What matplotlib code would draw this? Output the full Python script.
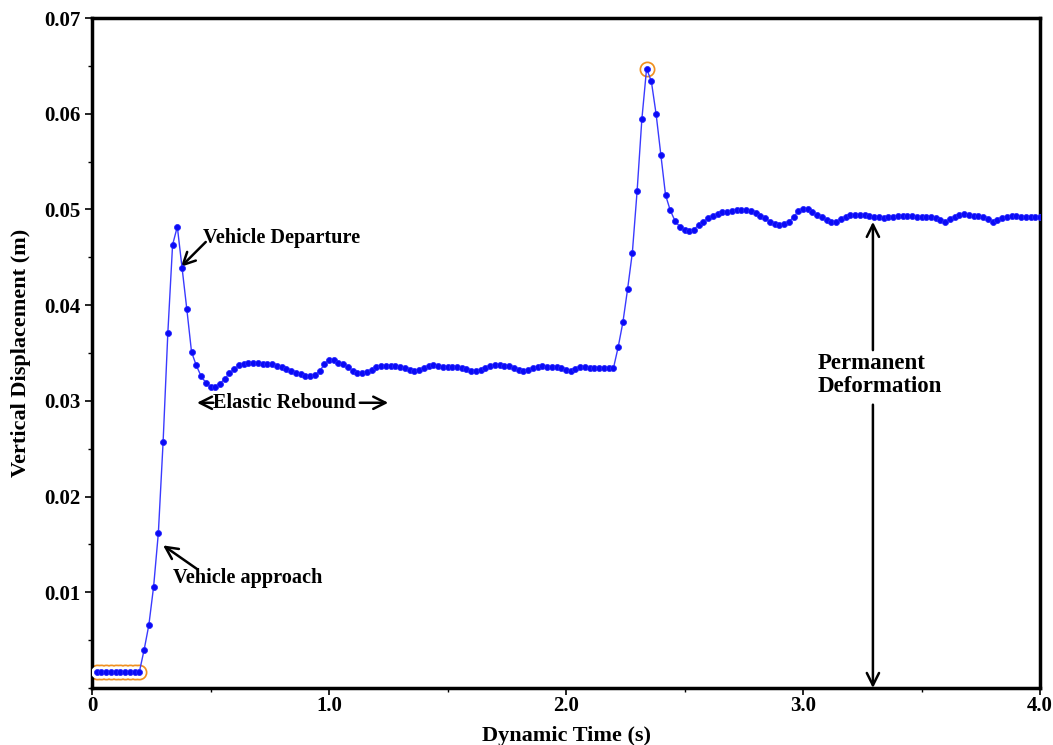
import matplotlib
matplotlib.use('Agg')
import matplotlib.pyplot as plt
import numpy as np
from matplotlib.ticker import MultipleLocator, FixedLocator

# ---------------- data ----------------
time_s = np.round(np.arange(1, 201) * 0.02, 2)
displacement_m = [
    0.0017, 0.0017, 0.0017, 0.0017, 0.0017, 0.0017, 0.0017, 0.0017, 0.0017, 0.0017,
    0.0040, 0.0066, 0.0106, 0.0162, 0.0257, 0.0371, 0.0463, 0.0482, 0.0439, 0.0396,
    0.0351, 0.0337, 0.0326, 0.0319, 0.0315, 0.0315, 0.0318, 0.0323, 0.0329, 0.0333,
    0.0337, 0.0339, 0.0340, 0.0340, 0.0340, 0.0339, 0.0339, 0.0338, 0.0336, 0.0335,
    0.0333, 0.0331, 0.0329, 0.0328, 0.0326, 0.0326, 0.0327, 0.0331, 0.0338, 0.0343,
    0.0343, 0.0340, 0.0338, 0.0335, 0.0331, 0.0329, 0.0329, 0.0330, 0.0332, 0.0335,
    0.0336, 0.0336, 0.0336, 0.0336, 0.0335, 0.0334, 0.0332, 0.0331, 0.0332, 0.0334,
    0.0336, 0.0337, 0.0336, 0.0335, 0.0335, 0.0335, 0.0335, 0.0334, 0.0333, 0.0331,
    0.0331, 0.0332, 0.0334, 0.0336, 0.0337, 0.0337, 0.0336, 0.0336, 0.0334, 0.0332,
    0.0331, 0.0332, 0.0334, 0.0335, 0.0336, 0.0335, 0.0335, 0.0335, 0.0334, 0.0332,
    0.0331, 0.0333, 0.0335, 0.0335, 0.0334, 0.0334, 0.0334, 0.0334, 0.0334, 0.0334,
    0.0356, 0.0382, 0.0417, 0.0455, 0.0519, 0.0594, 0.0647, 0.0634, 0.0600, 0.0557,
    0.0515, 0.0499, 0.0488, 0.0482, 0.0478, 0.0477, 0.0479, 0.0484, 0.0487, 0.0491,
    0.0493, 0.0495, 0.0497, 0.0497, 0.0498, 0.0499, 0.0499, 0.0499, 0.0498, 0.0496,
    0.0493, 0.0491, 0.0487, 0.0485, 0.0484, 0.0485, 0.0487, 0.0492, 0.0498, 0.0500,
    0.0500, 0.0497, 0.0494, 0.0492, 0.0489, 0.0487, 0.0487, 0.0490, 0.0492, 0.0494,
    0.0494, 0.0494, 0.0494, 0.0493, 0.0492, 0.0492, 0.0491, 0.0492, 0.0492, 0.0493,
    0.0493, 0.0493, 0.0493, 0.0492, 0.0492, 0.0492, 0.0492, 0.0491, 0.0489, 0.0487,
    0.0490, 0.0492, 0.0494, 0.0495, 0.0494, 0.0493, 0.0493, 0.0492, 0.0490, 0.0487,
    0.0489, 0.0491, 0.0492, 0.0493, 0.0493, 0.0492, 0.0492, 0.0492, 0.0492, 0.0492,
]
highlight_idx = [0, 1, 2, 3, 4, 5, 6, 7, 8, 9, 116]

x_ticks = [0, 1, 2, 3, 4]
x_tick_labels = ['0', '1.0', '2.0', '3.0', '4.0']
y_ticks = [0.01, 0.02, 0.03, 0.04, 0.05, 0.06, 0.07]
y_tick_labels = ['0.01', '0.02', '0.03', '0.04', '0.05', '0.06', '0.07']

x_label = 'Dynamic Time (s)'
y_label = 'Vertical Displacement (m)'

# ---------------- figure ----------------
serif = 'Liberation Serif'
plt.rcParams['font.family'] = [serif, 'DejaVu Serif']

fig = plt.figure(figsize=(10.53, 7.45), dpi=100)
ax = fig.add_axes([92 / 1053, 57 / 745, 948 / 1053, 670 / 745])

t = np.asarray(time_s)
d = np.asarray(displacement_m)
hi = np.asarray(highlight_idx)

# orange highlight rings
ax.plot(t[hi], d[hi], linestyle='none', marker='o', markersize=10.5,
        markerfacecolor='#F0901E', markeredgecolor='#F0901E', zorder=2)
ax.plot(t[hi], d[hi], linestyle='none', marker='o', markersize=8,
        markerfacecolor='white', markeredgecolor='white', zorder=3)

# series
ax.plot(t, d, color='#3A3AFF', linewidth=1.0, zorder=4)
ax.plot(t, d, linestyle='none', marker='o', markersize=4.3,
        markerfacecolor='#0A0AF5', markeredgecolor='#2828FF',
        markeredgewidth=0.6, zorder=5)

ax.set_xlim(0, 4.0)
ax.set_ylim(0, 0.07)

ax.xaxis.set_major_locator(FixedLocator(x_ticks))
ax.set_xticklabels(x_tick_labels)
ax.xaxis.set_minor_locator(MultipleLocator(0.5))
ax.yaxis.set_major_locator(FixedLocator(y_ticks))
ax.set_yticklabels(y_tick_labels)
ax.yaxis.set_minor_locator(MultipleLocator(0.005))

for lab in ax.get_xticklabels() + ax.get_yticklabels():
    lab.set_fontweight('bold')
    lab.set_fontsize(15)

ax.tick_params(axis='both', which='major', direction='out', length=5, width=1.2, pad=3)
ax.tick_params(axis='x', which='major', pad=1)
ax.tick_params(axis='both', which='minor', direction='out', length=3, width=1.0)

for sp in ax.spines.values():
    sp.set_linewidth(2.5)
    sp.set_color('black')

fig.text((92 + 948 / 2) / 1053, 9 / 745, x_label, fontsize=16, fontweight='bold',
         ha='center', va='center')
ax.set_ylabel(y_label, fontsize=16, fontweight='bold', labelpad=10)

# ---------------- annotations ----------------
arrow_kw = dict(arrowstyle='->', color='black', lw=1.8, mutation_scale=22,
                shrinkA=0, shrinkB=0)
txt_kw = dict(fontsize=14.6, fontweight='bold', color='black')

ax.annotate('', xy=(0.375, 0.0440), xytext=(0.48, 0.0466), arrowprops=arrow_kw)
ax.text(0.47, 0.0470, 'Vehicle Departure', va='center', ha='left', **txt_kw)

ax.annotate('', xy=(0.30, 0.0149), xytext=(0.445, 0.0124), arrowprops=arrow_kw)
ax.text(0.34, 0.0115, 'Vehicle approach', va='center', ha='left', **txt_kw)

ax.text(0.512, 0.0298, 'Elastic Rebound', va='center', ha='left', **txt_kw)
ax.annotate('', xy=(0.443, 0.0298), xytext=(0.512, 0.0298), arrowprops=arrow_kw)
ax.annotate('', xy=(1.25, 0.0298), xytext=(1.13, 0.0298), arrowprops=arrow_kw)

ax.text(3.06, 0.0327, 'Permanent\nDeformation', va='center', ha='left',
        fontsize=16.5, fontweight='bold', color='black', linespacing=1.15)
ax.annotate('', xy=(3.295, 0.0487), xytext=(3.295, 0.0353), arrowprops=arrow_kw)
ax.annotate('', xy=(3.295, 0.0), xytext=(3.295, 0.0296), arrowprops=arrow_kw)

fig.savefig('out.png', dpi=100)
